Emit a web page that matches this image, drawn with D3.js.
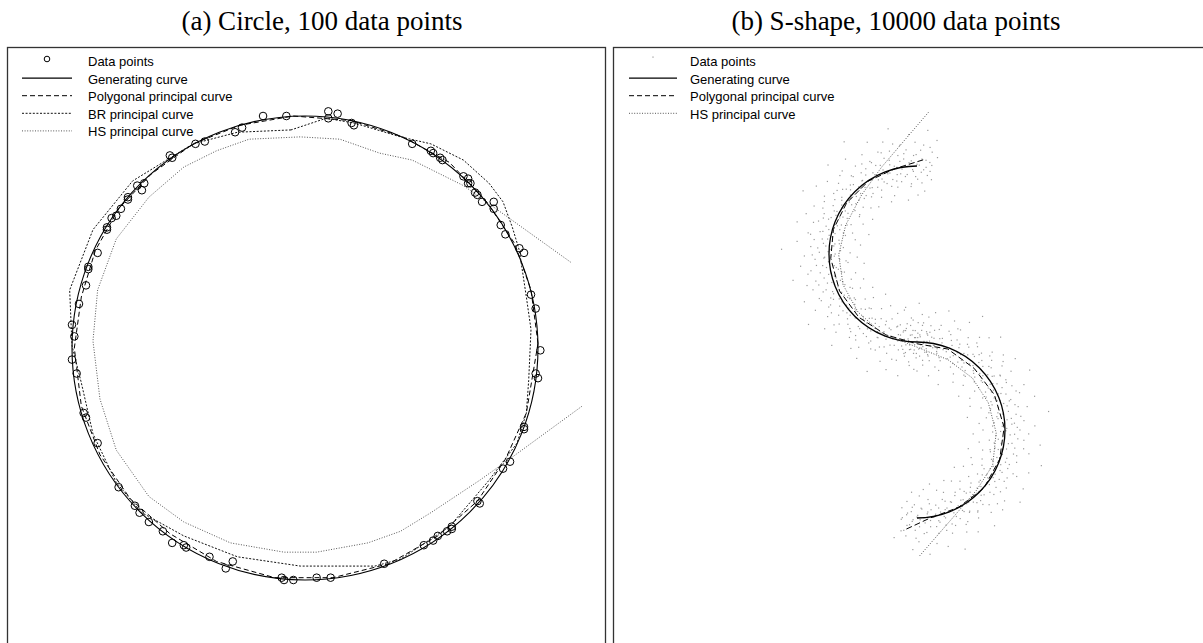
<!DOCTYPE html>
<html>
<head>
<meta charset="utf-8">
<script src="https://cdn.jsdelivr.net/npm/d3@7"></script>
<style>
  html, body { margin: 0; padding: 0; background: #fff; }
  svg { display: block; }
</style>
</head>
<body>
<svg id="fig" width="1203" height="643"></svg>
<script>
// ---------- panel (a): circle, 100 data points (unit circle coordinates) ----------
const circlePoints = [
  [-0.18,1.00],[-0.08,1.00],[-0.27,0.95],[-0.30,0.93],[-0.47,0.88],[-0.43,0.89],[-0.58,0.83],[-0.57,0.82],
  [-0.72,0.70],[-0.69,0.71],[-0.70,0.68],[-0.76,0.65],[-0.76,0.64],[-0.79,0.60],[-0.83,0.56],[-0.81,0.57],
  [-0.85,0.51],[-0.85,0.52],[-0.89,0.41],[-0.93,0.35],[-0.93,0.34],[-0.94,0.27],[-0.97,0.19],[-1.00,0.10],
  [-0.99,0.05],
  [0.10,1.02],[0.14,1.01],[0.10,0.99],[0.20,0.97],[0.21,0.96],
  [0.46,0.88],[0.54,0.85],[0.55,0.84],[0.58,0.82],[0.59,0.81],[0.68,0.74],[0.70,0.73],[0.70,0.71],
  [0.71,0.71],[0.73,0.67],[0.74,0.66],[0.76,0.63],[0.81,0.63],[0.81,0.60],[0.84,0.53],[0.86,0.49],
  [0.92,0.43],[0.94,0.41],[0.97,0.23],
  [0.99,0.17],[1.01,-0.01],[0.99,-0.11],[1.00,-0.13],
  [0.94,-0.34],[0.94,-0.35],[0.88,-0.49],[0.85,-0.52],[0.75,-0.67],[0.74,-0.66],[0.63,-0.77],[0.63,-0.78],
  [0.61,-0.79],[0.57,-0.81],[0.55,-0.83],[0.51,-0.85],[0.34,-0.93],
  [-1.00,-0.05],[-0.98,-0.11],[-0.95,-0.28],[-0.94,-0.30],[-0.89,-0.41],[-0.80,-0.60],[-0.73,-0.68],
  [-0.71,-0.71],[-0.67,-0.75],[-0.61,-0.79],[-0.57,-0.84],[-0.52,-0.85],[-0.51,-0.86],[-0.41,-0.90],
  [-0.31,-0.92],[-0.34,-0.95],[-0.10,-0.99],[-0.09,-1.00],[-0.05,-1.00],[0.05,-0.99],[0.11,-0.99]
];
const circleGenerating = { cx: 0, cy: 0, r: 1 };
const circlePolygonal = [
  [1.00,0.02],[0.97,0.25],[0.90,0.45],[0.78,0.63],[0.62,0.80],[0.42,0.91],[0.20,0.98],[-0.05,1.00],
  [-0.28,0.96],[-0.48,0.88],[-0.66,0.75],[-0.80,0.60],[-0.90,0.42],[-0.96,0.22],[-0.99,0.00],[-0.96,-0.25],
  [-0.88,-0.46],[-0.75,-0.65],[-0.58,-0.80],[-0.38,-0.92],[-0.13,-0.99],[0.12,-0.99],[0.36,-0.93],
  [0.57,-0.81],[0.74,-0.66],[0.86,-0.48],[0.95,-0.28],[1.00,0.02]
];
const circleBR = [
  [-0.06,0.94],[-0.29,0.93],[-0.48,0.88],[-0.74,0.72],[-0.91,0.51],[-1.01,0.25],[-1.00,0.01],[-0.96,-0.15],
  [-0.91,-0.37],[-0.81,-0.58],[-0.70,-0.71],[-0.52,-0.81],[-0.29,-0.90],[-0.02,-0.94],[0.30,-0.94],
  [0.41,-0.91],[0.62,-0.77],[0.79,-0.57],[0.91,-0.41],[0.95,-0.28],[0.96,-0.14],[0.97,0.08],[0.95,0.22],
  [0.92,0.42],[0.89,0.52],[0.85,0.63],[0.79,0.71],[0.68,0.81],[0.54,0.88],[0.41,0.91],[0.21,0.97],
  [0.09,0.99],[-0.06,0.94]
];
const circleHS = [
  [1.14,0.37],[0.89,0.55],[0.68,0.70],[0.46,0.81],[0.32,0.84],[0.15,0.90],[-0.02,0.91],[-0.24,0.90],
  [-0.38,0.85],[-0.52,0.78],[-0.67,0.65],[-0.81,0.47],[-0.89,0.25],[-0.91,0.03],[-0.88,-0.22],[-0.81,-0.44],
  [-0.67,-0.64],[-0.52,-0.75],[-0.32,-0.84],[-0.09,-0.88],[0.05,-0.88],[0.27,-0.84],[0.41,-0.79],
  [0.54,-0.71],[0.75,-0.57],[0.89,-0.47],[1.19,-0.25]
];

// ---------- panel (b): S-shape, 10000 data points ----------
// two half circles of unit radius, angles in degrees (counter-clockwise, y up)
const sArcs = [
  { cx: 0, cy: 1, r: 1, start: 90, end: 270 },
  { cx: 0, cy: -1, r: 1, start: 90, end: -90 }
];
// sample of the noisy cloud: [angle (deg), distance] about each arc centre
const sCloudUpper = [
  [78,1.12],[79,0.86],[80,1.31],[81,0.95],[82,1.05],[83,0.72],[83,1.22],[84,0.99],[85,1.41],[86,0.81],
  [87,1.08],[87,0.93],[88,1.18],[89,0.67],[90,1.02],[91,1.27],[91,0.88],[92,1.12],[93,0.96],[94,1.36],
  [95,0.77],[95,1.04],[96,1.19],[97,0.91],[98,1.09],[99,0.62],[99,1.25],[100,0.98],[101,1.14],[102,0.84],
  [103,1.46],[103,1.01],[104,0.93],[105,1.21],[106,0.79],[107,1.06],[107,1.33],[108,0.89],[109,1.15],[110,0.97],
  [111,0.71],[111,1.24],[112,1.03],[113,0.87],[114,1.39],[115,1.11],[115,0.94],[116,0.66],[117,1.18],[118,1.02],
  [119,0.83],[119,1.29],[120,0.99],[121,1.13],[122,0.76],[123,1.52],[123,1.07],[124,0.91],[125,1.22],[126,0.85],
  [127,1.04],[127,1.35],[128,0.96],[129,0.69],[130,1.16],[131,1.01],[131,0.88],[132,1.27],[133,0.94],[134,1.09],
  [135,0.74],[135,1.43],[136,1.05],[137,0.90],[138,1.20],[139,0.81],[139,1.12],[140,0.98],[141,1.31],[142,0.64],
  [143,1.07],[143,0.93],[144,1.17],[145,0.86],[146,1.38],[147,1.02],[147,0.78],[148,1.24],[149,0.95],[150,1.10],
  [151,0.70],[151,1.48],[152,1.03],[153,0.89],[154,1.19],[155,0.97],[155,1.29],[156,0.82],[157,1.06],[158,0.59],
  [159,1.14],[159,0.92],[160,1.34],[161,1.00],[162,0.77],[163,1.23],[163,1.08],[164,0.87],[165,1.41],[166,0.96],
  [167,1.13],[167,0.72],[168,1.02],[169,1.26],[170,0.90],[171,1.09],[171,0.65],[172,1.18],[173,0.94],[174,1.37],
  [175,1.04],[175,0.84],[176,1.21],[177,0.99],[178,1.54],[179,0.76],[179,1.11],[180,0.93],[181,1.28],[182,1.05],
  [183,0.68],[183,1.16],[184,0.88],[185,1.01],[186,1.33],[187,0.79],[187,1.08],[188,0.95],[189,1.22],[190,0.61],
  [191,1.12],[191,0.91],[192,1.44],[193,1.03],[194,0.85],[195,1.19],[195,0.97],[196,1.30],[197,0.73],[198,1.07],
  [199,0.92],[199,1.25],[200,1.00],[201,0.80],[202,1.15],[203,1.39],[203,0.89],[204,1.05],[205,0.67],[206,1.21],
  [207,0.96],[207,1.10],[208,0.83],[209,1.32],[210,1.02],[211,0.75],[211,1.17],[212,0.93],[213,1.47],[214,1.06],
  [215,0.87],[215,1.24],[216,0.99],[217,0.63],[218,1.13],[219,0.91],[219,1.35],[220,1.04],[221,0.78],[222,1.19],
  [223,0.95],[223,1.08],[224,1.28],[225,0.70],[226,1.01],[227,0.86],[227,1.42],[228,1.14],[229,0.94],[230,0.81],
  [231,1.22],[231,1.06],[232,0.58],[233,1.16],[234,0.97],[235,1.31],[235,0.89],[236,1.09],[237,0.74],[238,1.25],
  [239,1.02],[239,0.92],[240,1.37],[241,0.84],[242,1.12],[243,0.99],[243,0.66],[244,1.20],[245,1.05],[246,0.88],
  [247,1.45],[247,0.96],[248,1.14],[249,0.79],[250,1.03],[251,1.29],[251,0.91],[252,0.71],[253,1.18],[254,1.00],
  [255,0.85],[255,1.36],[256,1.07],[257,0.94],[258,0.62],[259,1.23],[259,1.11],[260,0.90],[261,1.40],[262,0.80],
  [263,1.04],[263,1.17],[264,0.97],[265,0.73],[266,1.27],[267,1.01],[267,0.87],[268,1.13],[269,0.95],[270,1.33],
  [271,0.78],[271,1.08],[272,0.92],[273,1.21],[274,1.02],[275,0.69],[276,1.15],[277,0.89],[278,1.05],[279,1.30],
  [280,0.96],[281,0.83],[282,1.10],
  [80.5,1.02],[81.5,1.17],[82.5,0.90],[84.5,1.07],[85.5,0.96],[86.5,1.24],[88.5,1.01],[89.5,0.85],[90.5,1.13],[92.5,0.94],
  [93.5,1.06],[94.5,0.80],[96.5,1.00],[97.5,1.15],[98.5,0.89],[100.5,1.07],[101.5,0.93],[102.5,1.28],[104.5,1.03],[105.5,0.86],
  [106.5,1.11],[108.5,0.97],[109.5,1.22],[110.5,0.82],[112.5,1.09],[113.5,0.99],[114.5,0.90],[116.5,1.16],[117.5,0.95],[118.5,1.05],
  [120.5,0.88],[121.5,1.20],[122.5,1.00],[124.5,1.12],[125.5,0.92],[126.5,1.04],[128.5,0.83],[129.5,1.14],[130.5,0.98],[132.5,1.07],
  [133.5,0.87],[134.5,1.25],[136.5,0.95],[137.5,1.09],[138.5,1.01],[140.5,0.90],[141.5,1.16],[142.5,0.97],[144.5,1.05],[145.5,0.79],
  [146.5,1.12],[148.5,1.00],[149.5,0.91],[150.5,1.21],[152.5,1.06],[153.5,0.94],[154.5,1.02],[156.5,1.15],[157.5,0.86],[158.5,1.08],
  [160.5,0.96],[161.5,1.18],[162.5,0.92],[164.5,1.04],[165.5,0.84],[166.5,1.10],[168.5,0.98],[169.5,1.23],[170.5,1.03],[172.5,0.89],
  [173.5,1.07],[174.5,0.95],[176.5,1.13],[177.5,0.87],[178.5,1.01],[180.5,1.19],[181.5,0.94],[182.5,1.06],[184.5,0.99],[185.5,0.81],
  [186.5,1.15],[188.5,1.04],[189.5,0.93],[190.5,1.26],[192.5,1.00],[193.5,0.88],[194.5,1.09],[196.5,0.96],[197.5,1.17],[198.5,1.02],
  [200.5,0.90],[201.5,1.11],[202.5,0.97],[204.5,1.22],[205.5,1.05],[206.5,0.85],[208.5,1.08],[209.5,0.95],[210.5,1.14],[212.5,1.01],
  [213.5,0.92],[214.5,1.18],[216.5,0.87],[217.5,1.06],[218.5,0.99],[220.5,1.24],[221.5,0.94],[222.5,1.03],[224.5,0.89],[225.5,1.12],
  [226.5,1.00],[228.5,0.82],[229.5,1.16],[230.5,0.96],[232.5,1.07],[233.5,0.91],[234.5,1.20],[236.5,1.02],[237.5,0.88],[238.5,1.10],
  [240.5,0.97],[241.5,1.15],[242.5,0.93],[244.5,1.05],[245.5,0.84],[246.5,1.19],[248.5,1.00],[249.5,0.90],[250.5,1.12],[252.5,0.98],
  [253.5,1.08],[254.5,0.86],[256.5,1.23],[257.5,1.01],[258.5,0.94],[260.5,1.06],[261.5,0.88],[262.5,1.14],[264.5,0.99],[265.5,1.09],
  [266.5,0.92],[268.5,1.03],[269.5,1.18],[270.5,0.95],[272.5,1.07],[273.5,0.87],[274.5,1.12],[276.5,1.00],[277.5,0.93],[279.5,1.08]
];
const sCloudLower = [
  [100,0.93],[99,1.21],[98,1.04],[97,0.78],[96,1.16],[96,1.37],[95,0.97],[94,1.08],[93,0.69],[92,1.25],
  [92,0.91],[91,1.13],[90,1.01],[89,1.44],[88,0.84],[88,1.06],[87,1.19],[86,0.95],[85,0.74],[84,1.29],
  [84,1.10],[83,0.89],[82,1.02],[81,1.35],[80,0.80],[80,1.15],[79,0.98],[78,0.63],[77,1.22],[76,1.07],
  [76,0.92],[75,1.40],[74,1.03],[73,0.86],[72,1.18],[72,0.96],[71,1.31],[70,0.72],[69,1.09],[68,1.00],
  [68,1.24],[67,0.88],[66,1.12],[65,0.57],[64,1.36],[64,0.94],[63,1.05],[62,0.81],[61,1.20],[60,0.99],
  [60,1.49],[59,0.90],[58,1.11],[57,0.76],[56,1.27],[56,1.03],[55,0.93],[54,1.17],[53,0.68],[52,1.06],
  [52,1.33],[51,0.87],[50,1.14],[49,0.97],[48,1.42],[48,0.82],[47,1.08],[46,1.23],[45,0.91],[44,0.73],
  [44,1.04],[43,1.16],[42,0.96],[41,1.30],[40,0.85],[40,1.10],[39,0.61],[38,1.02],[37,1.21],[36,0.92],
  [36,1.38],[35,1.07],[34,0.79],[33,1.13],[32,0.98],[32,1.26],[31,0.70],[30,1.05],[29,0.89],[28,1.45],
  [28,1.15],[27,0.95],[26,0.83],[25,1.19],[24,1.01],[24,0.66],[23,1.32],[22,1.09],[21,0.90],[20,1.24],
  [20,0.97],[19,0.77],[18,1.12],[17,1.03],[16,1.39],[16,0.87],[15,1.06],[14,0.59],[13,1.18],[12,0.94],
  [12,1.28],[11,1.00],[10,0.80],[9,1.14],[8,1.51],[8,0.93],[7,1.08],[6,0.71],[5,1.22],[4,0.99],
  [4,1.11],[3,0.86],[2,1.34],[1,1.02],[0,0.75],[0,1.17],[-1,0.95],[-2,1.27],[-3,1.06],[-4,0.64],
  [-4,0.90],[-5,1.15],[-6,1.00],[-7,1.41],[-8,0.83],[-8,1.09],[-9,0.97],[-10,1.23],[-11,0.72],[-12,1.04],
  [-12,1.30],[-13,0.91],[-14,1.13],[-15,0.86],[-16,1.47],[-16,1.01],[-17,0.78],[-18,1.19],[-19,0.96],[-20,1.07],
  [-20,0.62],[-21,1.36],[-22,0.93],[-23,1.12],[-24,1.00],[-24,0.81],[-25,1.25],[-26,1.05],[-27,0.69],[-28,1.16],
  [-28,0.94],[-29,1.38],[-30,0.88],[-31,1.09],[-32,1.02],[-32,0.74],[-33,1.21],[-34,0.97],[-35,1.43],[-36,0.85],
  [-36,1.11],[-37,1.03],[-38,0.67],[-39,1.28],[-40,0.92],[-40,1.14],[-41,1.00],[-42,0.79],[-43,1.33],[-44,1.06],
  [-44,0.95],[-45,0.60],[-46,1.18],[-47,0.89],[-48,1.08],[-48,1.26],[-49,0.98],[-50,0.76],[-51,1.40],[-52,1.04],
  [-52,0.91],[-53,1.15],[-54,0.83],[-55,1.22],[-56,1.01],[-56,0.70],[-57,1.10],[-58,0.94],[-59,1.35],[-60,1.07],
  [-60,0.86],[-61,1.19],[-62,0.65],[-63,0.99],[-64,1.29],[-64,1.12],[-65,0.90],[-66,1.03],[-67,0.77],[-68,1.46],
  [-68,1.17],[-69,0.95],[-70,0.84],[-71,1.24],[-72,1.05],[-72,0.72],[-73,1.13],[-74,0.97],[-75,1.37],[-76,0.88],
  [-76,1.08],[-77,0.63],[-78,1.20],[-79,1.01],[-80,0.92],[-80,1.31],[-81,0.80],[-82,1.11],[-83,0.96],[-84,1.42],
  [-84,0.68],[-85,1.06],[-86,1.18],[-87,0.89],[-88,1.02],[-88,0.75],[-89,1.27],[-90,0.99],[-91,1.14],[-92,0.85],
  [-92,1.36],[-93,1.04],[-94,0.93],[-95,0.71],[-96,1.21],[-96,1.09],[-97,0.97],[-98,0.82],[-99,1.16],[-100,1.03],
  [-101,0.90],[-102,1.25],
  [99.5,1.03],[98.5,0.89],[97.5,1.14],[95.5,1.00],[94.5,0.92],[93.5,1.19],[91.5,1.05],[90.5,0.87],[89.5,1.10],[87.5,0.97],
  [86.5,1.22],[85.5,1.01],[83.5,0.93],[82.5,1.12],[81.5,0.85],[79.5,1.06],[78.5,0.98],[77.5,1.17],[75.5,0.90],[74.5,1.08],
  [73.5,1.00],[71.5,0.83],[70.5,1.15],[69.5,0.95],[67.5,1.04],[66.5,1.24],[65.5,0.91],[63.5,1.09],[62.5,0.99],[61.5,0.86],
  [59.5,1.13],[58.5,1.02],[57.5,0.94],[55.5,1.20],[54.5,0.88],[53.5,1.07],[51.5,0.96],[50.5,1.11],[49.5,0.82],[47.5,1.04],
  [46.5,0.93],[45.5,1.18],[43.5,1.00],[42.5,0.89],[41.5,1.09],[39.5,0.97],[38.5,1.25],[37.5,0.92],[35.5,1.05],[34.5,0.85],
  [33.5,1.13],[31.5,1.01],[30.5,0.94],[29.5,1.16],[27.5,0.98],[26.5,1.08],[25.5,0.87],[23.5,1.04],[22.5,0.95],[21.5,1.21],
  [19.5,1.00],[18.5,0.90],[17.5,1.10],[15.5,0.96],[14.5,1.15],[13.5,0.84],[11.5,1.06],[10.5,0.99],[9.5,0.92],[7.5,1.19],
  [6.5,1.03],[5.5,0.88],[3.5,1.08],[2.5,0.97],[1.5,1.14],[-0.5,1.01],[-1.5,0.86],[-2.5,1.11],[-4.5,0.98],[-5.5,1.22],
  [-6.5,0.93],[-8.5,1.05],[-9.5,0.89],[-10.5,1.13],[-12.5,1.00],[-13.5,0.95],[-14.5,1.17],[-16.5,0.87],[-17.5,1.07],[-18.5,0.99],
  [-20.5,1.12],[-21.5,0.91],[-22.5,1.03],[-24.5,1.20],[-25.5,0.96],[-26.5,1.08],[-28.5,0.84],[-29.5,1.02],[-30.5,1.15],[-32.5,0.94],
  [-33.5,1.06],[-34.5,0.90],[-36.5,1.18],[-37.5,1.00],[-38.5,0.92],[-40.5,1.09],[-41.5,0.97],[-42.5,1.24],[-44.5,0.86],[-45.5,1.04],
  [-46.5,0.99],[-48.5,1.13],[-49.5,0.93],[-50.5,1.07],[-52.5,0.88],[-53.5,1.16],[-54.5,1.01],[-56.5,0.95],[-57.5,1.11],[-58.5,0.83],
  [-60.5,1.05],[-61.5,0.98],[-62.5,1.21],[-64.5,0.91],[-65.5,1.08],[-66.5,1.00],[-68.5,0.87],[-69.5,1.14],[-70.5,0.96],[-72.5,1.03],
  [-73.5,1.19],[-74.5,0.92],[-76.5,1.06],[-77.5,0.98],[-78.5,1.12],[-80.5,0.85],[-81.5,1.04],[-82.5,0.94],[-84.5,1.17],[-85.5,1.00],
  [-86.5,0.90],[-88.5,1.10],[-89.5,0.97],[-90.5,1.23],[-92.5,1.02],[-93.5,0.88],[-94.5,1.08],[-96.5,0.95],[-97.5,1.15],[-99.5,1.01]
];
const sPolygonal = [
  [0.07,2.07],[-0.25,1.97],[-0.55,1.83],[-0.80,1.58],[-0.95,1.28],[-0.98,0.95],[-0.88,0.58],[-0.66,0.28],
  [-0.35,0.08],[0.00,-0.02],[0.35,-0.08],[0.65,-0.30],[0.88,-0.60],[0.99,-0.97],[0.94,-1.33],[0.76,-1.66],
  [0.47,-1.88],[0.15,-2.00],[-0.13,-2.13]
];
const sHS = [
  [0.13,2.61],[-0.40,1.99],[-0.63,1.67],[-0.81,1.33],[-0.89,0.99],[-0.84,0.65],[-0.67,0.34],[-0.40,0.10],
  [-0.02,-0.05],[0.35,-0.20],[0.63,-0.41],[0.81,-0.69],[0.90,-1.03],[0.86,-1.40],[0.68,-1.68],[0.43,-1.97],
  [0.03,-2.43]
];

const titles = ["(a) Circle, 100 data points", "(b) S-shape, 10000 data points"];
const legendA = ["Data points", "Generating curve", "Polygonal principal curve", "BR principal curve", "HS principal curve"];
const legendB = ["Data points", "Generating curve", "Polygonal principal curve", "HS principal curve"];

// ---------- drawing ----------
const svg = d3.select("#fig");
svg.append("rect").attr("width", 1203).attr("height", 643).attr("fill", "#fff");

const styles = {
  "Generating curve":          { stroke: "#000", width: 1.1, dash: null },
  "Polygonal principal curve": { stroke: "#000", width: 1.0, dash: "5,3" },
  "BR principal curve":        { stroke: "#111", width: 1.0, dash: "2,1.6" },
  "HS principal curve":        { stroke: "#555", width: 1.0, dash: "1,1.6" }
};
function styled(sel, name) {
  const s = styles[name];
  sel.attr("fill", "none").attr("stroke", s.stroke).attr("stroke-width", s.width);
  if (s.dash) sel.attr("stroke-dasharray", s.dash);
  return sel;
}

// panel frames
const frames = [
  { x0: 7.5, x1: 605.5 },
  { x0: 613.5, x1: 1211.5 }
];
frames.forEach(f => {
  svg.append("rect")
    .attr("x", f.x0).attr("y", 47.5)
    .attr("width", f.x1 - f.x0).attr("height", 700)
    .attr("fill", "none").attr("stroke", "#333").attr("stroke-width", 1.3);
});

// titles
const titleX = [322, 896];
titles.forEach((t, i) => {
  svg.append("text")
    .attr("x", titleX[i]).attr("y", 30)
    .attr("text-anchor", "middle")
    .attr("font-family", "'Liberation Serif', 'Times New Roman', serif")
    .attr("font-size", 27)
    .attr("fill", "#000")
    .text(t);
});

// ----- panel (a) -----
const xa = d3.scaleLinear().domain([-1, 1]).range([72, 538]);
const ya = d3.scaleLinear().domain([-1, 1]).range([580, 116]);
const lineA = d3.line().x(d => xa(d[0])).y(d => ya(d[1]));
const ga = svg.append("g");

styled(ga.append("ellipse"), "Generating curve")
  .attr("cx", xa(circleGenerating.cx)).attr("cy", ya(circleGenerating.cy))
  .attr("rx", xa(circleGenerating.r) - xa(0)).attr("ry", ya(0) - ya(circleGenerating.r));
styled(ga.append("path"), "Polygonal principal curve").attr("d", lineA(circlePolygonal));
styled(ga.append("path"), "BR principal curve").attr("d", lineA(circleBR));
styled(ga.append("path"), "HS principal curve").attr("d", lineA(circleHS));

ga.selectAll("circle.pt").data(circlePoints).join("circle")
  .attr("class", "pt")
  .attr("cx", d => xa(d[0])).attr("cy", d => ya(d[1]))
  .attr("r", 3.8)
  .attr("fill", "none").attr("stroke", "#000").attr("stroke-width", 1);

// ----- panel (b) -----
const xb = d3.scaleLinear().domain([-1, 1]).range([829, 1005]);
const yb = d3.scaleLinear().domain([-2, 2]).range([518, 166]);
const lineB = d3.line().x(d => xb(d[0])).y(d => yb(d[1]));
const gb = svg.append("g");
const rad = Math.PI / 180;

// polar (angle, distance) about an arc centre -> x, y
function cloudXY(list, arc) {
  return list.map(([a, r]) => [arc.cx + r * Math.cos(a * rad), arc.cy + r * Math.sin(a * rad)]);
}
const cloud = cloudXY(sCloudUpper, sArcs[0]).concat(cloudXY(sCloudLower, sArcs[1]));
gb.selectAll("rect.dot").data(cloud).join("rect")
  .attr("class", "dot")
  .attr("x", d => xb(d[0]) - 0.6).attr("y", d => yb(d[1]) - 0.6)
  .attr("width", 1.2).attr("height", 1.2)
  .attr("fill", "#9a9a9a");

const sPath = d3.path();
sArcs.forEach(a => {
  const rpx = xb(a.r) - xb(0);
  sPath.arc(xb(a.cx), yb(a.cy), rpx, -a.start * rad, -a.end * rad, a.end > a.start);
});
styled(gb.append("path"), "Generating curve").attr("d", sPath.toString()).attr("stroke-width", 1.3);
styled(gb.append("path"), "Polygonal principal curve").attr("d", lineB(sPolygonal)).attr("stroke-dasharray", "6,3");
styled(gb.append("path"), "HS principal curve").attr("d", lineB(sHS));

// ----- legends -----
function legend(items, x0, x1, xt) {
  const g = svg.append("g")
    .attr("font-family", "'Liberation Sans', Arial, sans-serif")
    .attr("font-size", 13);
  items.forEach((name, i) => {
    const yb0 = 66 + i * 17.6;
    const ys = yb0 - 5.5;
    if (name === "Data points") {
      if (items.length === 5) {
        g.append("circle").attr("cx", (x0 + x1) / 2).attr("cy", ys - 1.5).attr("r", 2.8)
          .attr("fill", "none").attr("stroke", "#000").attr("stroke-width", 1);
      } else {
        g.append("rect").attr("x", (x0 + x1) / 2 - 0.6).attr("y", ys - 4).attr("width", 1.2).attr("height", 1.2)
          .attr("fill", "#9a9a9a");
      }
    } else {
      styled(g.append("line"), name).attr("x1", x0).attr("x2", x1).attr("y1", ys).attr("y2", ys);
    }
    g.append("text").attr("x", xt).attr("y", yb0).attr("fill", "#000").text(name);
  });
}
legend(legendA, 22, 72, 88);
legend(legendB, 629, 677, 690);
</script>
</body>
</html>
